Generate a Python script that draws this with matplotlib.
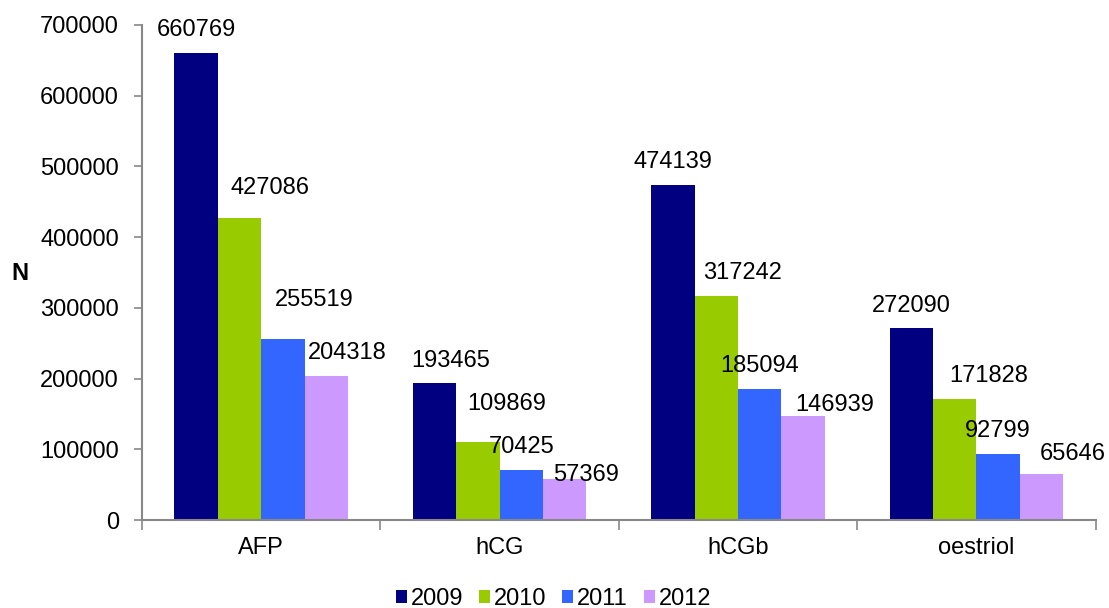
import matplotlib
matplotlib.use("Agg")
import matplotlib.pyplot as plt
import numpy as np
from matplotlib.patches import Patch

categories = ["AFP", "hCG", "hCGb", "oestriol"]
years = ["2009", "2010", "2011", "2012"]
v2009 = [660769, 193465, 474139, 272090]
v2010 = [427086, 109869, 317242, 171828]
v2011 = [255519, 70425, 185094, 92799]
v2012 = [204318, 57369, 146939, 65646]
series = [v2009, v2010, v2011, v2012]
colors = ["#000080", "#99CC00", "#3366FF", "#CC99FF"]

# manual label offsets (pixels) as placed in the reference: [series][category]
label_dx = [[0, 16, 0, 0], [31, 29, 26, 34], [31, 0, 0, 0], [21, 21, 32, 31]]
label_dy = [[17, 16, 17, 16], [24, 32, 17, 17], [33, 17, 17, 17], [17, -2, 5, 14]]

plt.rcParams['font.family'] = ['Liberation Sans', 'DejaVu Sans']
FS = 17

fig = plt.figure(figsize=(11.09, 6.08), dpi=100)
ax = fig.add_axes([0.128, 0.1447, 0.86, 0.8142])

x = np.arange(len(categories))
w = 0.182
for i, (vals, c) in enumerate(zip(series, colors)):
    pos = x + (i - 1.5) * w
    ax.bar(pos, vals, width=w, color=c, label=years[i], zorder=2)
    for j, (p, v) in enumerate(zip(pos, vals)):
        ax.annotate(str(v), (p, v), xytext=(label_dx[i][j], label_dy[i][j]),
                    textcoords="offset pixels", ha="center", va="baseline",
                    fontsize=FS, zorder=5)

ax.set_xlim(-0.5, len(categories) - 0.5)
ax.set_ylim(0, 700000)
ax.set_yticks(np.arange(0, 700001, 100000))
ax.set_yticklabels([str(t) for t in range(0, 700001, 100000)], fontsize=FS)
ax.set_xticks(x)
ax.set_xticklabels(categories, fontsize=FS)
ax.tick_params(axis='x', length=0, pad=12.5)
ax.set_xticks(np.arange(-0.5, len(categories), 1), minor=True)
ax.tick_params(axis='x', which='minor', length=7, width=1.2, color='#888888', direction='out')
ax.tick_params(axis='y', length=6, width=1.2, color='#888888', direction='out', pad=10.5)

for s in ['top', 'right']:
    ax.spines[s].set_visible(False)
for s in ['left', 'bottom']:
    ax.spines[s].set_color('#888888')
    ax.spines[s].set_linewidth(1.5)

fig.text(0.018, 0.550, "N", fontsize=17, fontweight='bold', ha='center', va='center')

handles = [Patch(facecolor=c, label=y) for c, y in zip(colors, years)]
fig.legend(handles=handles, loc='center', bbox_to_anchor=(0.499, 0.0148), ncol=4,
           frameon=False, fontsize=FS, handlelength=0.47, handleheight=0.47,
           handletextpad=0.15, columnspacing=0.68, borderpad=0, borderaxespad=0)

fig.savefig("out.png", dpi=100)
